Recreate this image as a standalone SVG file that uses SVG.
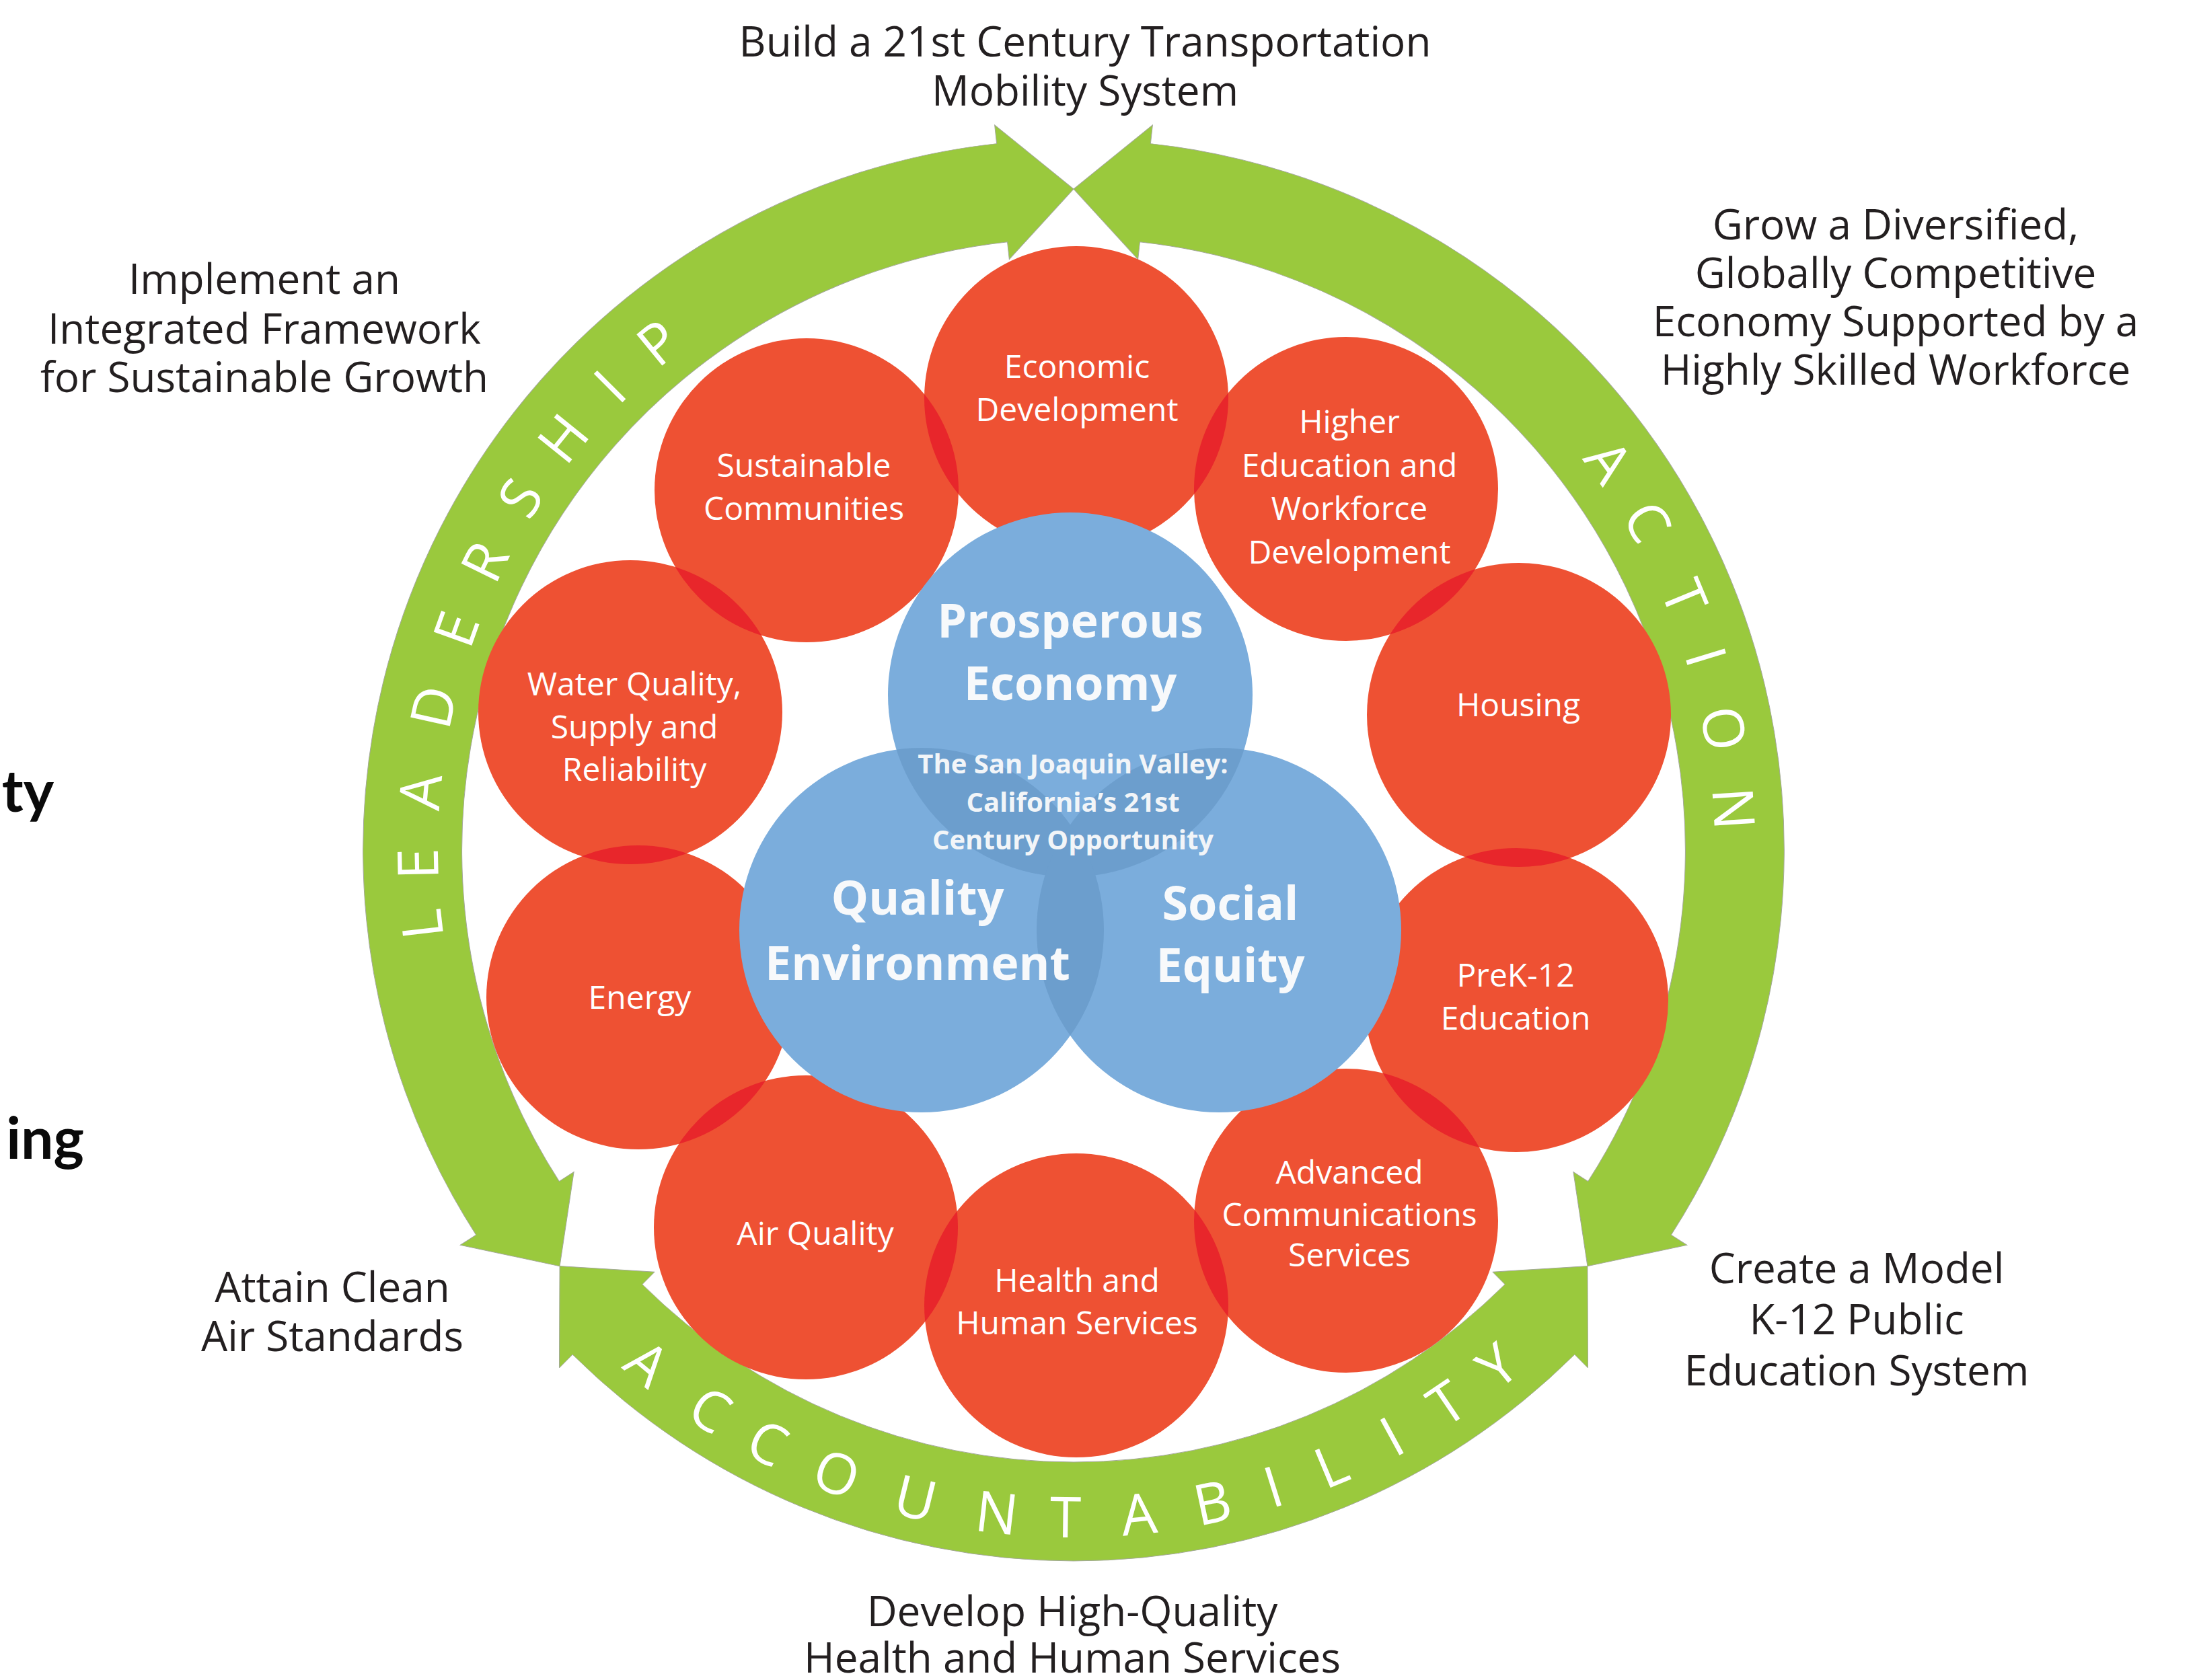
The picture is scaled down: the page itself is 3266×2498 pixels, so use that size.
<svg xmlns="http://www.w3.org/2000/svg" width="3266" height="2498" viewBox="0 0 3266 2498">
<style>
.lbl{font-family:"Open Sans","Liberation Sans",sans-serif;font-size:62px;fill:#231f20;text-anchor:middle}
.cl{font-family:"Open Sans","Liberation Sans",sans-serif;font-size:48px;fill:#ffffff;text-anchor:middle}
.big{font-family:"Open Sans","Liberation Sans",sans-serif;font-size:70px;font-weight:700;fill:#f7f9fb;text-anchor:middle}
.sj{font-family:"Open Sans","Liberation Sans",sans-serif;font-size:40px;font-weight:700;fill:#f2f5f8;text-anchor:middle}
.ring{font-family:"Open Sans","Liberation Sans",sans-serif;font-size:84px;font-weight:400;fill:#ffffff;text-anchor:middle}
.cut{font-family:Lato,"Liberation Sans",sans-serif;font-size:86px;font-weight:700;fill:#0a0a0a;text-anchor:end}
.red{fill:#EE5133}
.redov{fill:#E8262B}
.blue{fill:#7BADDC}
.blueov{fill:#6C9ECD}
.arrow{fill:#9AC93D;stroke:#a3a89a;stroke-width:1}
</style>
<defs>
<path id="arcLong" d="M -898.82 -555.42 A 1057 1057 0 0 1 898.82 -555.42 L 922.63 -570.13 L 887.25 -423.19 L 751.71 -464.52 L 773.82 -478.18 A 910 910 0 0 0 -773.82 -478.18 L -751.71 -464.52 L -887.25 -423.19 L -922.63 -570.13 Z"/>
<path id="arcShort" d="M -744.79 -750.02 A 1057 1057 0 0 1 744.79 -750.02 L 764.52 -769.88 L 763.94 -618.62 L 622.89 -627.26 L 641.21 -645.71 A 910 910 0 0 0 -641.21 -645.71 L -622.89 -627.26 L -763.94 -618.62 L -764.52 -769.88 Z"/>
<clipPath id="c-eco"><circle cx="1600" cy="592" r="226"/></clipPath>
<clipPath id="c-hed"><circle cx="2001" cy="727" r="226"/></clipPath>
<clipPath id="c-hou"><circle cx="2258" cy="1063" r="226"/></clipPath>
<clipPath id="c-pre"><circle cx="2254" cy="1487" r="226"/></clipPath>
<clipPath id="c-adv"><circle cx="2001" cy="1815" r="226"/></clipPath>
<clipPath id="c-hea"><circle cx="1600" cy="1941" r="226"/></clipPath>
<clipPath id="c-air"><circle cx="1198" cy="1825" r="226"/></clipPath>
<clipPath id="c-ene"><circle cx="949" cy="1483" r="226"/></clipPath>
<clipPath id="c-wat"><circle cx="937" cy="1059" r="226"/></clipPath>
<clipPath id="c-sus"><circle cx="1199" cy="729" r="226"/></clipPath>
<clipPath id="c-pro"><circle cx="1591" cy="1033" r="271"/></clipPath>
<clipPath id="c-qua"><circle cx="1370" cy="1383" r="271"/></clipPath>
<clipPath id="c-soc"><circle cx="1812" cy="1383" r="271"/></clipPath>
</defs>

<g id="connectors">
  <g id="arrow-leadership">
    <use href="#arcLong" class="arrow" transform="translate(1596 1264) rotate(-64.5)"/>
    <g class="ring">
      <text x="1596" y="319" transform="rotate(-96.5 1596 1264)">L</text>
      <text x="1596" y="319" transform="rotate(-91.2 1596 1264)">E</text>
      <text x="1596" y="319" transform="rotate(-84.9 1596 1264)">A</text>
      <text x="1596" y="319" transform="rotate(-77.4 1596 1264)">D</text>
      <text x="1596" y="319" transform="rotate(-70.3 1596 1264)">E</text>
      <text x="1596" y="319" transform="rotate(-63.9 1596 1264)">R</text>
      <text x="1596" y="319" transform="rotate(-57.5 1596 1264)">S</text>
      <text x="1596" y="319" transform="rotate(-51.1 1596 1264)">H</text>
      <text x="1596" y="319" transform="rotate(-45 1596 1264)">I</text>
      <text x="1596" y="319" transform="rotate(-39.3 1596 1264)">P</text>
    </g>
  </g>
  <g id="arrow-action">
    <use href="#arcLong" class="arrow" transform="translate(1596 1264) rotate(64.5)"/>
    <g class="ring">
      <text x="1596" y="311" transform="rotate(54 1596 1264)">A</text>
      <text x="1596" y="311" transform="rotate(60.2 1596 1264)">C</text>
      <text x="1596" y="311" transform="rotate(67.5 1596 1264)">T</text>
      <text x="1596" y="311" transform="rotate(73 1596 1264)">I</text>
      <text x="1596" y="311" transform="rotate(79.4 1596 1264)">O</text>
      <text x="1596" y="311" transform="rotate(86.4 1596 1264)">N</text>
    </g>
  </g>
  <g id="arrow-accountability">
    <use href="#arcShort" class="arrow" transform="translate(1596 1264) rotate(180)"/>
    <g class="ring">
      <text x="1596" y="2286" transform="rotate(39.7 1596 1264)">A</text>
      <text x="1596" y="2286" transform="rotate(33 1596 1264)">C</text>
      <text x="1596" y="2286" transform="rotate(27.3 1596 1264)">C</text>
      <text x="1596" y="2286" transform="rotate(20.8 1596 1264)">O</text>
      <text x="1596" y="2286" transform="rotate(13.7 1596 1264)">U</text>
      <text x="1596" y="2286" transform="rotate(6.6 1596 1264)">N</text>
      <text x="1596" y="2286" transform="rotate(0.7 1596 1264)">T</text>
      <text x="1596" y="2286" transform="rotate(-5.6 1596 1264)">A</text>
      <text x="1596" y="2286" transform="rotate(-12 1596 1264)">B</text>
      <text x="1596" y="2286" transform="rotate(-17.4 1596 1264)">I</text>
      <text x="1596" y="2286" transform="rotate(-22.7 1596 1264)">L</text>
      <text x="1596" y="2286" transform="rotate(-28.5 1596 1264)">I</text>
      <text x="1596" y="2286" transform="rotate(-34 1596 1264)">T</text>
      <text x="1596" y="2286" transform="rotate(-39.4 1596 1264)">Y</text>
    </g>
  </g>
</g>

<g id="goal-labels">
  <g id="goal-transportation"><text class="lbl" x="1613" y="84">Build a 21st Century Transportation</text><text class="lbl" x="1613" y="157">Mobility System</text></g>
  <g id="goal-framework"><text class="lbl" x="393" y="437">Implement an</text><text class="lbl" x="393" y="511">Integrated Framework</text><text class="lbl" x="393" y="583">for Sustainable Growth</text></g>
  <g id="goal-economy"><text class="lbl" x="2818" y="356">Grow a Diversified,</text><text class="lbl" x="2818" y="428">Globally Competitive</text><text class="lbl" x="2818" y="500">Economy Supported by a</text><text class="lbl" x="2818" y="572">Highly Skilled Workforce</text></g>
  <g id="goal-air"><text class="lbl" x="494" y="1936">Attain Clean</text><text class="lbl" x="494" y="2009">Air Standards</text></g>
  <g id="goal-k12"><text class="lbl" x="2760" y="1908">Create a Model</text><text class="lbl" x="2760" y="1984">K-12 Public</text><text class="lbl" x="2760" y="2060">Education System</text></g>
  <g id="goal-health"><text class="lbl" x="1594" y="2418">Develop High-Quality</text><text class="lbl" x="1594" y="2487">Health and Human Services</text></g>
  <g id="cut-text"><text class="cut" x="80" y="1207">ty</text><text class="cut" x="125" y="1723">ing</text></g>
</g>

<g id="red-nodes">
  <g id="economic-development"><circle class="red" cx="1600" cy="592" r="226"/></g>
  <g id="higher-education"><circle class="red" cx="2001" cy="727" r="226"/></g>
  <g id="housing"><circle class="red" cx="2258" cy="1063" r="226"/></g>
  <g id="prek-12"><circle class="red" cx="2254" cy="1487" r="226"/></g>
  <g id="advanced-communications"><circle class="red" cx="2001" cy="1815" r="226"/></g>
  <g id="health-human-services"><circle class="red" cx="1600" cy="1941" r="226"/></g>
  <g id="air-quality"><circle class="red" cx="1198" cy="1825" r="226"/></g>
  <g id="energy"><circle class="red" cx="949" cy="1483" r="226"/></g>
  <g id="water-quality"><circle class="red" cx="937" cy="1059" r="226"/></g>
  <g id="sustainable-communities"><circle class="red" cx="1199" cy="729" r="226"/></g>
</g>
<g id="red-overlaps" class="redov">
  <circle cx="2001" cy="727" r="226" clip-path="url(#c-eco)"/>
  <circle cx="2258" cy="1063" r="226" clip-path="url(#c-hed)"/>
  <circle cx="2254" cy="1487" r="226" clip-path="url(#c-hou)"/>
  <circle cx="2001" cy="1815" r="226" clip-path="url(#c-pre)"/>
  <circle cx="1600" cy="1941" r="226" clip-path="url(#c-adv)"/>
  <circle cx="1198" cy="1825" r="226" clip-path="url(#c-hea)"/>
  <circle cx="949" cy="1483" r="226" clip-path="url(#c-air)"/>
  <circle cx="937" cy="1059" r="226" clip-path="url(#c-ene)"/>
  <circle cx="1199" cy="729" r="226" clip-path="url(#c-wat)"/>
  <circle cx="1600" cy="592" r="226" clip-path="url(#c-sus)"/>
</g>
<g id="red-labels">
  <text class="cl" x="1601" y="562">Economic</text><text class="cl" x="1601" y="626">Development</text>
  <text class="cl" x="2006" y="644">Higher</text><text class="cl" x="2006" y="709">Education and</text><text class="cl" x="2006" y="773">Workforce</text><text class="cl" x="2006" y="838">Development</text>
  <text class="cl" x="2257" y="1065">Housing</text>
  <text class="cl" x="2253" y="1467">PreK-12</text><text class="cl" x="2253" y="1531">Education</text>
  <text class="cl" x="2006" y="1760">Advanced</text><text class="cl" x="2006" y="1823">Communications</text><text class="cl" x="2006" y="1883">Services</text>
  <text class="cl" x="1601" y="1921">Health and</text><text class="cl" x="1601" y="1984">Human Services</text>
  <text class="cl" x="1212" y="1851">Air Quality</text>
  <text class="cl" x="951" y="1500">Energy</text>
  <text class="cl" x="943" y="1034">Water Quality,</text><text class="cl" x="943" y="1098">Supply and</text><text class="cl" x="943" y="1161">Reliability</text>
  <text class="cl" x="1195" y="709">Sustainable</text><text class="cl" x="1195" y="773">Communities</text>
</g>

<g id="blue-nodes">
  <g id="prosperous-economy"><circle class="blue" cx="1591" cy="1033" r="271"/></g>
  <g id="quality-environment"><circle class="blue" cx="1370" cy="1383" r="271"/></g>
  <g id="social-equity"><circle class="blue" cx="1812" cy="1383" r="271"/></g>
</g>
<g id="blue-overlaps" class="blueov">
  <circle cx="1370" cy="1383" r="271" clip-path="url(#c-pro)"/>
  <circle cx="1812" cy="1383" r="271" clip-path="url(#c-pro)"/>
  <circle cx="1812" cy="1383" r="271" clip-path="url(#c-qua)"/>
</g>
<g id="blue-labels">
  <text class="big" x="1591" y="948">Prosperous</text><text class="big" x="1591" y="1041">Economy</text>
  <text class="big" x="1364" y="1360">Quality</text><text class="big" x="1364" y="1457">Environment</text>
  <text class="big" x="1829" y="1368">Social</text><text class="big" x="1829" y="1460">Equity</text>
  <g id="center-title"><text class="sj" x="1595" y="1150">The San Joaquin Valley:</text><text class="sj" x="1595" y="1207">California’s 21st</text><text class="sj" x="1595" y="1263">Century Opportunity</text></g>
</g>
</svg>
